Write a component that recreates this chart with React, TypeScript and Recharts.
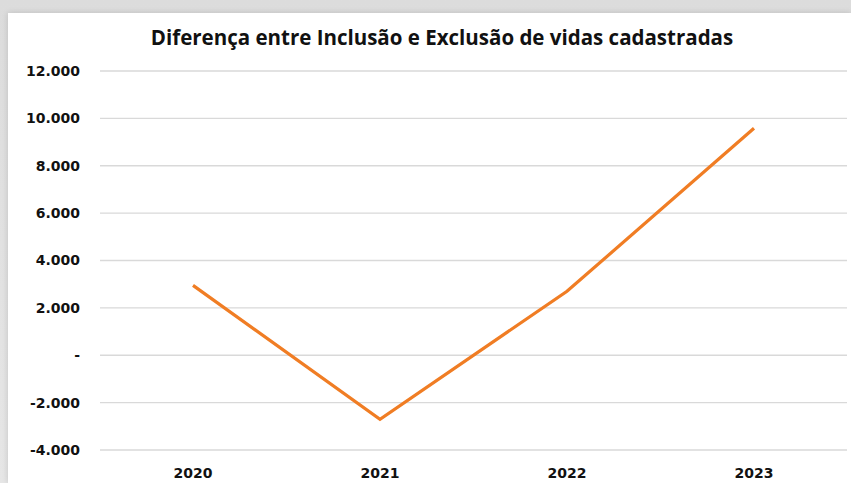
import { LineChart, Line, XAxis, YAxis, CartesianGrid } from "recharts";

// Values
const years = ["2020", "2021", "2022", "2023"];
const difference = [2950, -2700, 2700, 9580];
const yTicks = [-4000, -2000, 0, 2000, 4000, 6000, 8000, 10000, 12000];

const data = years.map((year, i) => ({ year, value: difference[i] }));

const fmt = (v: number) => {
  if (v === 0) return "-";
  const s = Math.abs(v).toString().replace(/\B(?=(\d{3})+(?!\d))/g, ".");
  return v < 0 ? "-" + s : s;
};

const titleFont = "'Open Sans', sans-serif";
const tickFont = "'DejaVu Sans', sans-serif";

export default function App() {
  return (
    <div
      style={{
        position: "fixed",
        left: 0,
        top: 0,
        width: 851,
        height: 483,
        background: "linear-gradient(#dcdcdc, #e6e6e6)",
        overflow: "hidden",
      }}
    >
      <div
        style={{
          position: "absolute",
          left: 8,
          top: 13,
          width: 843,
          height: 470,
          background: "#fff",
          boxShadow: "0 0 6px rgba(0,0,0,0.15)",
        }}
      >
        <div
          style={{
            position: "absolute",
            left: 0,
            top: 10,
            width: 868,
            textAlign: "center",
            fontFamily: titleFont,
            fontWeight: 700,
            fontSize: 20.5,
            color: "#111",
          }}
        >
          Diferença entre Inclusão e Exclusão de vidas cadastradas
        </div>
        <LineChart
          width={843}
          height={470}
          data={data}
          margin={{ top: 58, right: 4, bottom: 0, left: 0 }}
        >
          <CartesianGrid vertical={false} stroke="#d9d9d9" strokeWidth={1.3} />
          <XAxis
            dataKey="year"
            axisLine={false}
            tickLine={false}
            height={33}
            tickMargin={12}
            padding={{ left: 93, right: 93 }}
            tick={{ fill: "#111", fontSize: 14, fontWeight: 700, fontFamily: tickFont }}
          />
          <YAxis
            domain={[-4000, 12000]}
            ticks={yTicks}
            tickFormatter={fmt}
            axisLine={false}
            tickLine={false}
            width={92}
            tickMargin={14}
            tick={{ fill: "#111", fontSize: 14, fontWeight: 700, fontFamily: tickFont }}
          />
          <Line
            type="linear"
            dataKey="value"
            stroke="#F07D24"
            strokeWidth={3.2}
            dot={false}
            isAnimationActive={false}
          />
        </LineChart>
      </div>
    </div>
  );
}
